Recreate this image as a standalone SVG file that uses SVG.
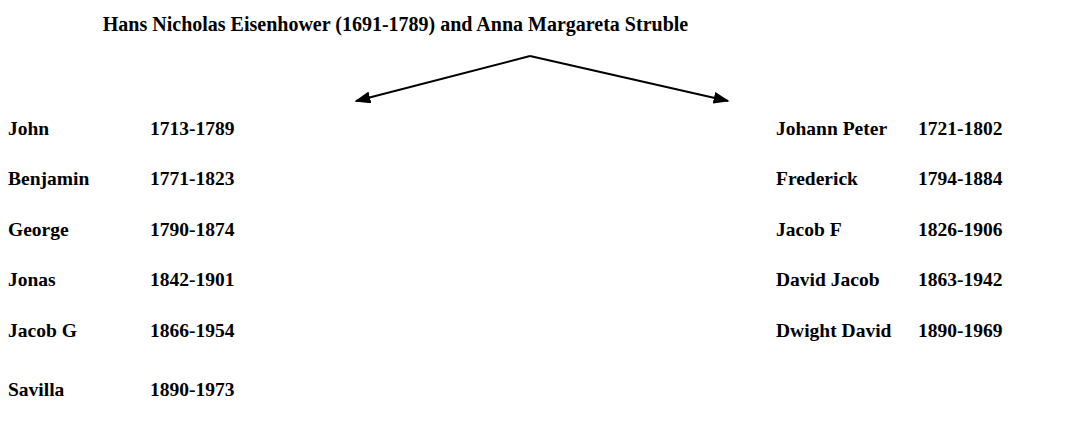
<svg xmlns="http://www.w3.org/2000/svg" width="1089" height="432" viewBox="0 0 1089 432">
<style>
text{font-family:"Liberation Serif","Times New Roman",serif;font-weight:bold;font-size:19.5px;fill:#000}
#parents text{font-size:20px}
.ln{stroke:#000;stroke-width:2;fill:none}
</style>
<defs>
<marker id="ah" viewBox="0 0 10 10" refX="9" refY="5" markerWidth="16" markerHeight="12" markerUnits="userSpaceOnUse" orient="auto" preserveAspectRatio="none">
<path d="M0,0 L10,5 L0,10 Z" fill="#000"/>
</marker>
</defs>
<rect width="1089" height="432" fill="#fff"/>
<g id="parents"><text x="395.5" y="31" text-anchor="middle">Hans Nicholas Eisenhower (1691-1789) and Anna Margareta Struble</text></g>
<g id="connectors">
<line class="ln" x1="530" y1="56" x2="356" y2="101" marker-end="url(#ah)"/>
<line class="ln" x1="530" y1="56" x2="728" y2="101" marker-end="url(#ah)"/>
</g>
<g id="left">
<g id="john"><text x="8" y="134.5">John</text><text x="150" y="134.5">1713-1789</text></g>
<g id="benjamin"><text x="8" y="185">Benjamin</text><text x="150" y="185">1771-1823</text></g>
<g id="george"><text x="8" y="235.5">George</text><text x="150" y="235.5">1790-1874</text></g>
<g id="jonas"><text x="8" y="286">Jonas</text><text x="150" y="286">1842-1901</text></g>
<g id="jacobg"><text x="8" y="336.5">Jacob G</text><text x="150" y="336.5">1866-1954</text></g>
<g id="savilla"><text x="8" y="395.5">Savilla</text><text x="150" y="395.5">1890-1973</text></g>
</g>
<g id="right">
<g id="johannpeter"><text x="776" y="134.5">Johann Peter</text><text x="918" y="134.5">1721-1802</text></g>
<g id="frederick"><text x="776" y="185">Frederick</text><text x="918" y="185">1794-1884</text></g>
<g id="jacobf"><text x="776" y="235.5">Jacob F</text><text x="918" y="235.5">1826-1906</text></g>
<g id="davidjacob"><text x="776" y="286">David Jacob</text><text x="918" y="286">1863-1942</text></g>
<g id="dwightdavid"><text x="776" y="336.5">Dwight David</text><text x="918" y="336.5">1890-1969</text></g>
</g>
</svg>
